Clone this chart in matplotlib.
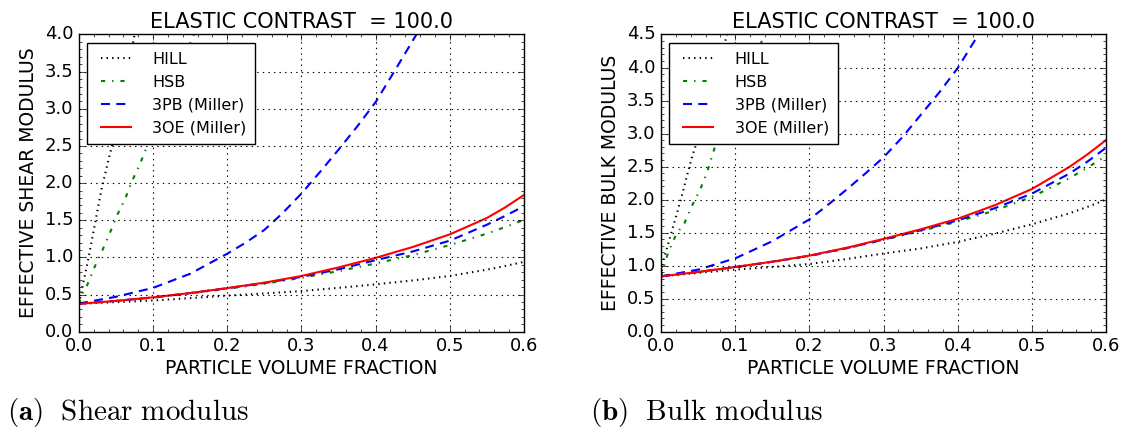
import matplotlib
matplotlib.use("Agg")
import matplotlib.pyplot as plt
from matplotlib.ticker import AutoMinorLocator, MultipleLocator

# x grid for the lower curves
x_main = [0, 0.05, 0.1, 0.15, 0.2, 0.25, 0.3, 0.35, 0.4, 0.45, 0.5, 0.55, 0.575, 0.6]

# --- shear modulus (a) ---
oe_shear = [0.375, 0.415, 0.463, 0.52, 0.587, 0.66, 0.75, 0.865, 0.994, 1.14, 1.31, 1.53, 1.675, 1.84]
pb_lo_shear = [0.378, 0.415, 0.46, 0.52, 0.585, 0.655, 0.738, 0.84, 0.963, 1.08, 1.225, 1.44, 1.56, 1.69]
hsb_lo_shear = [0.378, 0.413, 0.458, 0.515, 0.578, 0.645, 0.725, 0.815, 0.918, 1.03, 1.166, 1.32, 1.41, 1.505]
hill_lo_shear = [0.375, 0.398, 0.42, 0.452, 0.486, 0.515, 0.547, 0.59, 0.637, 0.69, 0.75, 0.835, 0.885, 0.94]

x_pb_hi_shear = [0, 0.05, 0.1, 0.15, 0.2, 0.225, 0.25, 0.275, 0.3, 0.325, 0.35,
                 0.375, 0.4, 0.425, 0.455]
pb_hi_shear = [0.38, 0.47, 0.59, 0.78, 1.05, 1.2, 1.37, 1.6, 1.86, 2.15, 2.45,
               2.76, 3.09, 3.5, 4.0]
x_hill_hi_shear = [0, 0.0036, 0.0126, 0.0215, 0.0305, 0.0395, 0.046, 0.06, 0.075]
hill_hi_shear = [0.375, 0.55, 0.98, 1.45, 1.92, 2.3, 2.56, 3.2, 4.0]
x_hsb_hi_shear = [0, 0.004, 0.0112, 0.0215, 0.0318, 0.0417, 0.052, 0.062, 0.0717, 0.082,
                  0.092, 0.12, 0.155]
hsb_hi_shear = [0.375, 0.5, 0.63, 0.88, 1.10, 1.33, 1.58, 1.78, 2.03, 2.25, 2.50, 3.2, 4.0]

# --- bulk modulus (b) ---
oe_bulk = [0.838, 0.905, 0.98, 1.06, 1.152, 1.27, 1.405, 1.55, 1.71, 1.915, 2.16, 2.49, 2.685, 2.90]
pb_lo_bulk = [0.838, 0.905, 0.978, 1.06, 1.15, 1.265, 1.395, 1.535, 1.685, 1.87, 2.09, 2.39, 2.575, 2.785]
hsb_lo_bulk = [0.838, 0.903, 0.975, 1.055, 1.145, 1.26, 1.39, 1.525, 1.667, 1.835, 2.04, 2.32, 2.485, 2.66]
hill_lo_bulk = [0.838, 0.89, 0.94, 0.98, 1.025, 1.10, 1.184, 1.26, 1.36, 1.485, 1.626, 1.79, 1.89, 2.0]

x_pb_hi_bulk = [0, 0.05, 0.1, 0.15, 0.2, 0.225, 0.25, 0.275, 0.3, 0.325, 0.35, 0.375, 0.4, 0.428]
pb_hi_bulk = [0.838, 0.94, 1.11, 1.37, 1.70, 1.92, 2.15, 2.39, 2.64, 2.94, 3.28, 3.62, 3.99, 4.5]
x_hill_hi_bulk = [0, 0.0032, 0.0099, 0.0189, 0.0279, 0.0347, 0.0414, 0.048, 0.07, 0.089]
hill_hi_bulk = [0.838, 1.08, 1.34, 1.69, 2.05, 2.35, 2.63, 2.86, 3.7, 4.5]
x_hsb_hi_bulk = [0, 0.003, 0.0099, 0.0212, 0.0315, 0.0414, 0.0527, 0.0617, 0.073, 0.1, 0.14]
hsb_hi_bulk = [0.838, 0.95, 1.21, 1.49, 1.64, 1.9, 2.15, 2.40, 2.81, 3.5, 4.5]

labels = ["HILL", "HSB", "3PB (Miller)", "3OE (Miller)"]
title = "ELASTIC CONTRAST  = 100.0"

plt.style.use("classic")
plt.rcParams["figure.facecolor"] = "white"
plt.rcParams["savefig.facecolor"] = "white"
plt.rcParams["font.family"] = ["DejaVu Sans"]
plt.rcParams["mathtext.fontset"] = "cm"

fig = plt.figure(figsize=(11.28, 4.29), dpi=100)
ax1 = fig.add_axes([0.070, 0.2268, 0.3945, 0.6928])
ax2 = fig.add_axes([0.586, 0.2268, 0.3945, 0.6928])


def draw(ax, hill_hi, x_hill_hi, hill_lo, hsb_hi, x_hsb_hi, hsb_lo,
         pb_hi, x_pb_hi, pb_lo, oe, ylabel, ymax):
    l1, = ax.plot(x_hill_hi, hill_hi, "k:", lw=1.5)
    ax.plot(x_main, hill_lo, "k:", lw=1.5)
    l2, = ax.plot(x_hsb_hi, hsb_hi, "g-.", lw=1.5)
    ax.plot(x_main, hsb_lo, "g-.", lw=1.5)
    l3, = ax.plot(x_pb_hi, pb_hi, "b--", lw=1.5, dashes=(6.5, 4.5))
    ax.plot(x_main, pb_lo, "b--", lw=1.5, dashes=(6.5, 4.5))
    l4, = ax.plot(x_main, oe, "r-", lw=1.5)
    ax.set_xlim(0, 0.6)
    ax.set_ylim(0, ymax)
    ax.xaxis.set_major_locator(MultipleLocator(0.1))
    ax.yaxis.set_major_locator(MultipleLocator(0.5))
    ax.xaxis.set_minor_locator(AutoMinorLocator(5))
    ax.yaxis.set_minor_locator(AutoMinorLocator(5))
    ax.tick_params(labelsize=13)
    ax.grid(True, color="k", linestyle=":", linewidth=0.8)
    ax.set_xlabel("PARTICLE VOLUME FRACTION", fontsize=13.5, labelpad=3)
    ax.set_ylabel(ylabel, fontsize=13.5)
    ax.set_title(title, fontsize=15, pad=5)
    leg = ax.legend([l1, l2, l3, l4], labels, loc="upper left", fontsize=11.5,
                    numpoints=2, handlelength=2.5, handletextpad=1.05,
                    labelspacing=0.5, borderpad=0.55, borderaxespad=0,
                    fancybox=False, bbox_to_anchor=(0.018, 0.972))
    leg.get_frame().set_linewidth(1.0)


draw(ax1, hill_hi_shear, x_hill_hi_shear, hill_lo_shear, hsb_hi_shear,
     x_hsb_hi_shear, hsb_lo_shear, pb_hi_shear, x_pb_hi_shear, pb_lo_shear,
     oe_shear, "EFFECTIVE SHEAR MODULUS", 4.0)
draw(ax2, hill_hi_bulk, x_hill_hi_bulk, hill_lo_bulk, hsb_hi_bulk,
     x_hsb_hi_bulk, hsb_lo_bulk, pb_hi_bulk, x_pb_hi_bulk, pb_lo_bulk,
     oe_bulk, "EFFECTIVE BULK MODULUS", 4.5)

fig.text(0.006, 0.022, r"$\mathbf{(a)}\ \ \mathrm{Shear\ modulus}$", fontsize=21)
fig.text(0.523, 0.022, r"$\mathbf{(b)}\ \ \mathrm{Bulk\ modulus}$", fontsize=21)

fig.savefig("out.png", dpi=100)
